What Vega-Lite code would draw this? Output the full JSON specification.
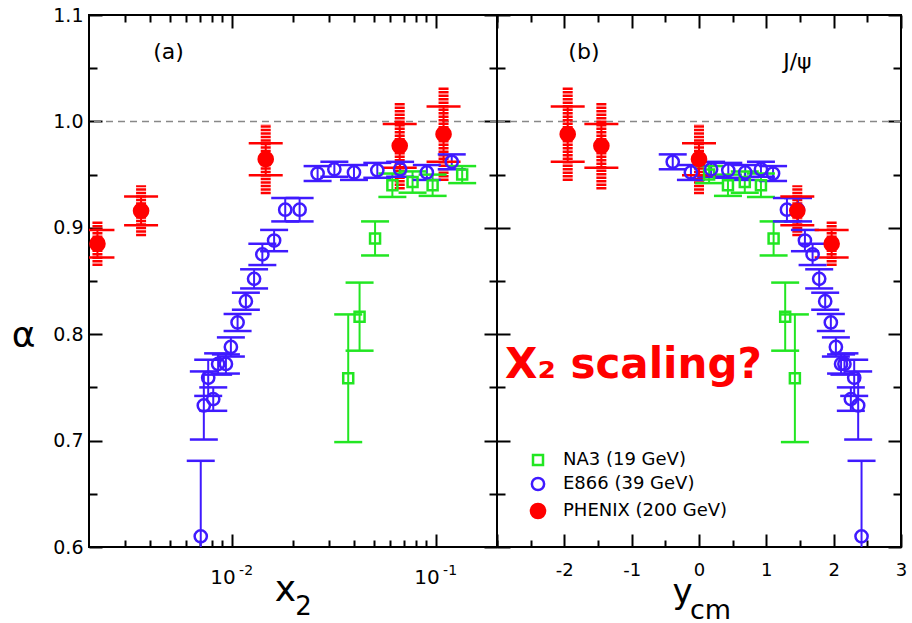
{
  "$schema": "https://vega.github.io/schema/vega-lite/v6.json",
  "background": "white",
  "padding": {"left": 10, "top": 5, "right": 5, "bottom": 0},
  "spacing": 0,
  "bounds": "flush",
  "resolve": {
    "scale": {"color": "independent", "fill": "independent", "shape": "independent", "size": "independent"},
    "legend": {"color": "independent", "fill": "independent", "shape": "independent", "size": "independent"}
  },
  "config": {
    "font": "DejaVu Sans",
    "view": {"stroke": "black", "strokeWidth": 2},
    "axis": {"domain": false, "grid": false, "tickColor": "black", "tickWidth": 2, "labelColor": "black", "titleColor": "black", "titleFontWeight": "normal", "labelFlush": false, "labelOverlap": false},
    "legend": {"labelLimit": 0}
  },
  "datasets": {
    "left": [
      {"series": "NA3 (19 GeV)", "x2": 0.135, "alpha": 0.950, "lo": 0.942, "hi": 0.958},
      {"series": "NA3 (19 GeV)", "x2": 0.0967, "alpha": 0.940, "lo": 0.930, "hi": 0.950},
      {"series": "NA3 (19 GeV)", "x2": 0.0771, "alpha": 0.943, "lo": 0.933, "hi": 0.953},
      {"series": "NA3 (19 GeV)", "x2": 0.0614, "alpha": 0.940, "lo": 0.929, "hi": 0.951},
      {"series": "NA3 (19 GeV)", "x2": 0.0505, "alpha": 0.890, "lo": 0.874, "hi": 0.906},
      {"series": "NA3 (19 GeV)", "x2": 0.0424, "alpha": 0.8165, "lo": 0.7845, "hi": 0.8485},
      {"series": "NA3 (19 GeV)", "x2": 0.0373, "alpha": 0.7586, "lo": 0.6986, "hi": 0.8186},
      {"series": "E866 (39 GeV)", "x2": 0.120, "alpha": 0.962, "lo": 0.955, "hi": 0.969},
      {"series": "E866 (39 GeV)", "x2": 0.0906, "alpha": 0.952, "lo": 0.945, "hi": 0.959},
      {"series": "E866 (39 GeV)", "x2": 0.067, "alpha": 0.955, "lo": 0.948, "hi": 0.962},
      {"series": "E866 (39 GeV)", "x2": 0.0518, "alpha": 0.954, "lo": 0.947, "hi": 0.961},
      {"series": "E866 (39 GeV)", "x2": 0.0398, "alpha": 0.952, "lo": 0.945, "hi": 0.959},
      {"series": "E866 (39 GeV)", "x2": 0.0319, "alpha": 0.955, "lo": 0.948, "hi": 0.962},
      {"series": "E866 (39 GeV)", "x2": 0.0264, "alpha": 0.951, "lo": 0.944, "hi": 0.958},
      {"series": "E866 (39 GeV)", "x2": 0.02155, "alpha": 0.917, "lo": 0.906, "hi": 0.928},
      {"series": "E866 (39 GeV)", "x2": 0.01832, "alpha": 0.917, "lo": 0.906, "hi": 0.928},
      {"series": "E866 (39 GeV)", "x2": 0.01616, "alpha": 0.888, "lo": 0.878, "hi": 0.898},
      {"series": "E866 (39 GeV)", "x2": 0.01415, "alpha": 0.875, "lo": 0.865, "hi": 0.885},
      {"series": "E866 (39 GeV)", "x2": 0.01289, "alpha": 0.852, "lo": 0.843, "hi": 0.861},
      {"series": "E866 (39 GeV)", "x2": 0.01175, "alpha": 0.831, "lo": 0.823, "hi": 0.839},
      {"series": "E866 (39 GeV)", "x2": 0.0107, "alpha": 0.811, "lo": 0.803, "hi": 0.819},
      {"series": "E866 (39 GeV)", "x2": 0.00992, "alpha": 0.788, "lo": 0.779, "hi": 0.797},
      {"series": "E866 (39 GeV)", "x2": 0.00938, "alpha": 0.772, "lo": 0.763, "hi": 0.781},
      {"series": "E866 (39 GeV)", "x2": 0.00859, "alpha": 0.772, "lo": 0.762, "hi": 0.782},
      {"series": "E866 (39 GeV)", "x2": 0.00813, "alpha": 0.739, "lo": 0.728, "hi": 0.750},
      {"series": "E866 (39 GeV)", "x2": 0.00768, "alpha": 0.759, "lo": 0.742, "hi": 0.776},
      {"series": "E866 (39 GeV)", "x2": 0.00731, "alpha": 0.733, "lo": 0.701, "hi": 0.765},
      {"series": "E866 (39 GeV)", "x2": 0.00706, "alpha": 0.610, "lo": 0.539, "hi": 0.681},
      {"series": "PHENIX (200 GeV)", "x2": 0.0022, "alpha": 0.885, "lo": 0.872, "hi": 0.898, "slo": 0.864, "shi": 0.906},
      {"series": "PHENIX (200 GeV)", "x2": 0.0036, "alpha": 0.916, "lo": 0.9025, "hi": 0.9295, "slo": 0.892, "shi": 0.940},
      {"series": "PHENIX (200 GeV)", "x2": 0.0147, "alpha": 0.9645, "lo": 0.9495, "hi": 0.9795, "slo": 0.9315, "shi": 0.9975},
      {"series": "PHENIX (200 GeV)", "x2": 0.0667, "alpha": 0.977, "lo": 0.9565, "hi": 0.9975, "slo": 0.936, "shi": 1.018},
      {"series": "PHENIX (200 GeV)", "x2": 0.1094, "alpha": 0.988, "lo": 0.962, "hi": 1.014, "slo": 0.944, "shi": 1.032}
    ],
    "right": [
      {"series": "NA3 (19 GeV)", "ycm": 0.15, "alpha": 0.950, "lo": 0.942, "hi": 0.958},
      {"series": "NA3 (19 GeV)", "ycm": 0.43, "alpha": 0.940, "lo": 0.930, "hi": 0.950},
      {"series": "NA3 (19 GeV)", "ycm": 0.68, "alpha": 0.943, "lo": 0.933, "hi": 0.953},
      {"series": "NA3 (19 GeV)", "ycm": 0.92, "alpha": 0.940, "lo": 0.929, "hi": 0.951},
      {"series": "NA3 (19 GeV)", "ycm": 1.108, "alpha": 0.890, "lo": 0.874, "hi": 0.906},
      {"series": "NA3 (19 GeV)", "ycm": 1.28, "alpha": 0.8165, "lo": 0.7845, "hi": 0.8485},
      {"series": "NA3 (19 GeV)", "ycm": 1.424, "alpha": 0.7586, "lo": 0.6986, "hi": 0.8186},
      {"series": "E866 (39 GeV)", "ycm": -0.39, "alpha": 0.962, "lo": 0.955, "hi": 0.969},
      {"series": "E866 (39 GeV)", "ycm": -0.12, "alpha": 0.952, "lo": 0.945, "hi": 0.959},
      {"series": "E866 (39 GeV)", "ycm": 0.18, "alpha": 0.955, "lo": 0.948, "hi": 0.962},
      {"series": "E866 (39 GeV)", "ycm": 0.435, "alpha": 0.954, "lo": 0.947, "hi": 0.961},
      {"series": "E866 (39 GeV)", "ycm": 0.687, "alpha": 0.952, "lo": 0.945, "hi": 0.959},
      {"series": "E866 (39 GeV)", "ycm": 0.92, "alpha": 0.955, "lo": 0.948, "hi": 0.962},
      {"series": "E866 (39 GeV)", "ycm": 1.10, "alpha": 0.951, "lo": 0.944, "hi": 0.958},
      {"series": "E866 (39 GeV)", "ycm": 1.306, "alpha": 0.917, "lo": 0.906, "hi": 0.928},
      {"series": "E866 (39 GeV)", "ycm": 1.47, "alpha": 0.917, "lo": 0.906, "hi": 0.928},
      {"series": "E866 (39 GeV)", "ycm": 1.573, "alpha": 0.888, "lo": 0.878, "hi": 0.898},
      {"series": "E866 (39 GeV)", "ycm": 1.687, "alpha": 0.875, "lo": 0.865, "hi": 0.885},
      {"series": "E866 (39 GeV)", "ycm": 1.785, "alpha": 0.852, "lo": 0.843, "hi": 0.861},
      {"series": "E866 (39 GeV)", "ycm": 1.874, "alpha": 0.831, "lo": 0.823, "hi": 0.839},
      {"series": "E866 (39 GeV)", "ycm": 1.958, "alpha": 0.811, "lo": 0.803, "hi": 0.819},
      {"series": "E866 (39 GeV)", "ycm": 2.033, "alpha": 0.788, "lo": 0.779, "hi": 0.797},
      {"series": "E866 (39 GeV)", "ycm": 2.11, "alpha": 0.772, "lo": 0.763, "hi": 0.781},
      {"series": "E866 (39 GeV)", "ycm": 2.16, "alpha": 0.772, "lo": 0.762, "hi": 0.782},
      {"series": "E866 (39 GeV)", "ycm": 2.255, "alpha": 0.739, "lo": 0.728, "hi": 0.750},
      {"series": "E866 (39 GeV)", "ycm": 2.305, "alpha": 0.759, "lo": 0.742, "hi": 0.776},
      {"series": "E866 (39 GeV)", "ycm": 2.364, "alpha": 0.733, "lo": 0.701, "hi": 0.765},
      {"series": "E866 (39 GeV)", "ycm": 2.414, "alpha": 0.610, "lo": 0.539, "hi": 0.681},
      {"series": "PHENIX (200 GeV)", "ycm": -1.95, "alpha": 0.988, "lo": 0.962, "hi": 1.014, "slo": 0.944, "shi": 1.032},
      {"series": "PHENIX (200 GeV)", "ycm": -1.45, "alpha": 0.977, "lo": 0.9565, "hi": 0.9975, "slo": 0.936, "shi": 1.018},
      {"series": "PHENIX (200 GeV)", "ycm": 0.0, "alpha": 0.9645, "lo": 0.9495, "hi": 0.9795, "slo": 0.9315, "shi": 0.9975},
      {"series": "PHENIX (200 GeV)", "ycm": 1.46, "alpha": 0.916, "lo": 0.9025, "hi": 0.9295, "slo": 0.892, "shi": 0.940},
      {"series": "PHENIX (200 GeV)", "ycm": 1.97, "alpha": 0.885, "lo": 0.872, "hi": 0.898, "slo": 0.864, "shi": 0.906}
    ]
  },
  "hconcat": [
    {
      "width": 408,
      "height": 532,
      "data": {"name": "left"},
      "resolve": {"axis": {"x": "independent", "y": "independent"}},
      "layer": [
        {
          "data": {"values": [{"ref": 1}]},
          "mark": {"type": "rule", "color": "#888888", "strokeWidth": 1.5, "strokeDash": [7, 5]},
          "encoding": {"y": {"field": "ref", "type": "quantitative", "scale": {"domain": [0.6, 1.1], "nice": false, "zero": false}, "axis": null}}
        },
        {
          "transform": [{"filter": "datum.series === 'PHENIX (200 GeV)'"}],
          "mark": {"type": "rule", "color": "#ff0000", "strokeWidth": 10, "strokeDash": [2.5, 1], "clip": true},
          "encoding": {
            "x": {"field": "x2", "type": "quantitative", "scale": {"type": "log", "domain": [0.002, 0.2], "nice": false},
              "axis": {"orient": "bottom", "values": [0.01, 0.1], "labelExpr": "'10'", "tickSize": -13, "labelPadding": 33, "labelFontSize": 20, "labelOffset": -9, "title": "x", "titleFontSize": 36, "titleX": 196, "titleY": 53, "titleAlign": "center", "titleBaseline": "alphabetic"}},
            "y": {"field": "slo", "type": "quantitative", "scale": {"domain": [0.6, 1.1], "nice": false, "zero": false},
              "axis": {"orient": "left", "values": [0.6, 0.7, 0.8, 0.9, 1.0, 1.1], "format": ".1f", "tickSize": -13, "labelPadding": 19, "labelFontSize": 19, "title": "α", "titleFontSize": 36, "titleAngle": 0, "titleX": -66, "titleY": 320, "titleAlign": "center", "titleBaseline": "middle"}},
            "y2": {"field": "shi"}
          }
        },
        {
          "mark": {"type": "rule", "strokeWidth": 2, "clip": true},
          "encoding": {
            "x": {"field": "x2", "type": "quantitative", "scale": {"type": "log", "domain": [0.002, 0.2], "nice": false},
              "axis": {"orient": "bottom", "values": [0.003, 0.004, 0.005, 0.006, 0.007, 0.008, 0.009, 0.02, 0.03, 0.04, 0.05, 0.06, 0.07, 0.08, 0.09, 0.2], "labels": false, "tickSize": -7, "title": "2", "titleFontSize": 26, "titleX": 214, "titleY": 67, "titleAlign": "center", "titleBaseline": "alphabetic"}},
            "y": {"field": "lo", "type": "quantitative", "scale": {"domain": [0.6, 1.1], "nice": false, "zero": false},
              "axis": {"orient": "left", "values": [0.65, 0.75, 0.85, 0.95, 1.05], "labels": false, "tickSize": -8, "title": null}},
            "y2": {"field": "hi"},
            "color": {"condition": [{"test": "datum.series === 'NA3 (19 GeV)'", "value": "#22e622"}, {"test": "datum.series === 'PHENIX (200 GeV)'", "value": "#ff0000"}], "value": "#3f1aff"}
          }
        },
        {
          "transform": [{"fold": ["lo", "hi"], "as": ["end", "val"]}],
          "mark": {"type": "tick", "orient": "horizontal", "thickness": 2.5, "opacity": 1, "clip": true},
          "encoding": {
            "x": {"field": "x2", "type": "quantitative", "scale": {"type": "log", "domain": [0.002, 0.2], "nice": false},
              "axis": {"orient": "top", "values": [0.01, 0.1], "labels": false, "tickSize": -13, "title": null}},
            "y": {"field": "val", "type": "quantitative", "scale": {"domain": [0.6, 1.1], "nice": false, "zero": false},
              "axis": {"orient": "right", "values": [0.6, 0.7, 0.8, 0.9, 1.0, 1.1], "labels": false, "tickSize": -13, "title": null}},
            "color": {"condition": [{"test": "datum.series === 'NA3 (19 GeV)'", "value": "#22e622"}, {"test": "datum.series === 'PHENIX (200 GeV)'", "value": "#ff0000"}], "value": "#3f1aff"},
            "size": {"condition": {"test": "datum.series === 'PHENIX (200 GeV)'", "value": 34}, "value": 28}
          }
        },
        {
          "mark": {"type": "point", "filled": false, "strokeWidth": 2.5, "opacity": 1},
          "encoding": {
            "x": {"field": "x2", "type": "quantitative", "scale": {"type": "log", "domain": [0.002, 0.2], "nice": false},
              "axis": {"orient": "top", "values": [0.003, 0.004, 0.005, 0.006, 0.007, 0.008, 0.009, 0.02, 0.03, 0.04, 0.05, 0.06, 0.07, 0.08, 0.09, 0.2], "labels": false, "tickSize": -7, "title": null}},
            "y": {"field": "alpha", "type": "quantitative", "scale": {"domain": [0.6, 1.1], "nice": false, "zero": false},
              "axis": {"orient": "right", "values": [0.65, 0.75, 0.85, 0.95, 1.05], "labels": false, "tickSize": -8, "title": null}},
            "color": {"field": "series", "type": "nominal", "scale": {"domain": ["NA3 (19 GeV)", "E866 (39 GeV)", "PHENIX (200 GeV)"], "range": ["#22e622", "#3f1aff", "#ff0000"]}, "legend": null},
            "fill": {"field": "series", "type": "nominal", "scale": {"domain": ["NA3 (19 GeV)", "E866 (39 GeV)", "PHENIX (200 GeV)"], "range": ["transparent", "transparent", "#ff0000"]}, "legend": null},
            "shape": {"field": "series", "type": "nominal", "scale": {"domain": ["NA3 (19 GeV)", "E866 (39 GeV)", "PHENIX (200 GeV)"], "range": ["square", "circle", "circle"]}, "legend": null},
            "size": {"field": "series", "type": "nominal", "scale": {"domain": ["NA3 (19 GeV)", "E866 (39 GeV)", "PHENIX (200 GeV)"], "range": [100, 200, 520]}, "legend": null}
          }
        },
        {
          "data": {"values": [{"x2": 0.00413, "alpha": 1.065, "label": "(a)"}]},
          "mark": {"type": "text", "align": "left", "baseline": "middle", "fontSize": 22, "color": "black", "font": "DejaVu Sans"},
          "encoding": {
            "x": {"field": "x2", "type": "quantitative", "scale": {"type": "log", "domain": [0.002, 0.2], "nice": false},
              "axis": {"orient": "bottom", "values": [0.01, 0.1], "labelExpr": "datum.value < 0.05 ? '-2' : '-1'", "ticks": false, "tickSize": 0, "labelPadding": 16, "labelFontSize": 14, "labelOffset": 14, "title": null}},
            "y": {"field": "alpha", "type": "quantitative", "scale": {"domain": [0.6, 1.1], "nice": false, "zero": false}, "axis": null},
            "text": {"field": "label"}
          }
        }
      ]
    },
    {
      "width": 404,
      "height": 532,
      "data": {"name": "right"},
      "resolve": {"axis": {"x": "independent", "y": "independent"}},
      "layer": [
        {
          "data": {"values": [{"ref": 1}]},
          "mark": {"type": "rule", "color": "#888888", "strokeWidth": 1.5, "strokeDash": [7, 5]},
          "encoding": {"y": {"field": "ref", "type": "quantitative", "scale": {"domain": [0.6, 1.1], "nice": false, "zero": false}, "axis": null}}
        },
        {
          "transform": [{"filter": "datum.series === 'PHENIX (200 GeV)'"}],
          "mark": {"type": "rule", "color": "#ff0000", "strokeWidth": 10, "strokeDash": [2.5, 1], "clip": true},
          "encoding": {
            "x": {"field": "ycm", "type": "quantitative", "scale": {"domain": [-3, 3], "nice": false, "zero": false},
              "axis": {"orient": "bottom", "values": [-3, -2, -1, 0, 1, 2, 3], "labelExpr": "datum.value == -3 ? '' : '' + datum.value", "tickSize": -13, "labelPadding": 27, "labelFontSize": 18, "title": "y", "titleFontSize": 34, "titleX": 185, "titleY": 55, "titleAlign": "center", "titleBaseline": "alphabetic"}},
            "y": {"field": "slo", "type": "quantitative", "scale": {"domain": [0.6, 1.1], "nice": false, "zero": false},
              "axis": {"orient": "left", "values": [0.6, 0.7, 0.8, 0.9, 1.0, 1.1], "labels": false, "tickSize": -13, "title": null}},
            "y2": {"field": "shi"}
          }
        },
        {
          "mark": {"type": "rule", "strokeWidth": 2, "clip": true},
          "encoding": {
            "x": {"field": "ycm", "type": "quantitative", "scale": {"domain": [-3, 3], "nice": false, "zero": false},
              "axis": {"orient": "bottom", "values": [-2.5, -1.5, -0.5, 0.5, 1.5, 2.5], "labels": false, "tickSize": -7, "title": "cm", "titleFontSize": 27, "titleX": 213, "titleY": 71, "titleAlign": "center", "titleBaseline": "alphabetic"}},
            "y": {"field": "lo", "type": "quantitative", "scale": {"domain": [0.6, 1.1], "nice": false, "zero": false},
              "axis": {"orient": "left", "values": [0.65, 0.75, 0.85, 0.95, 1.05], "labels": false, "tickSize": -8, "title": null}},
            "y2": {"field": "hi"},
            "color": {"condition": [{"test": "datum.series === 'NA3 (19 GeV)'", "value": "#22e622"}, {"test": "datum.series === 'PHENIX (200 GeV)'", "value": "#ff0000"}], "value": "#3f1aff"}
          }
        },
        {
          "transform": [{"fold": ["lo", "hi"], "as": ["end", "val"]}],
          "mark": {"type": "tick", "orient": "horizontal", "thickness": 2.5, "opacity": 1, "clip": true},
          "encoding": {
            "x": {"field": "ycm", "type": "quantitative", "scale": {"domain": [-3, 3], "nice": false, "zero": false},
              "axis": {"orient": "top", "values": [-3, -2, -1, 0, 1, 2, 3], "labels": false, "tickSize": -13, "title": null}},
            "y": {"field": "val", "type": "quantitative", "scale": {"domain": [0.6, 1.1], "nice": false, "zero": false},
              "axis": {"orient": "right", "values": [0.6, 0.7, 0.8, 0.9, 1.0, 1.1], "labels": false, "tickSize": -13, "title": null}},
            "color": {"condition": [{"test": "datum.series === 'NA3 (19 GeV)'", "value": "#22e622"}, {"test": "datum.series === 'PHENIX (200 GeV)'", "value": "#ff0000"}], "value": "#3f1aff"},
            "size": {"condition": {"test": "datum.series === 'PHENIX (200 GeV)'", "value": 34}, "value": 28}
          }
        },
        {
          "mark": {"type": "point", "filled": false, "strokeWidth": 2.5, "opacity": 1},
          "encoding": {
            "x": {"field": "ycm", "type": "quantitative", "scale": {"domain": [-3, 3], "nice": false, "zero": false},
              "axis": {"orient": "top", "values": [-2.5, -1.5, -0.5, 0.5, 1.5, 2.5], "labels": false, "tickSize": -7, "title": null}},
            "y": {"field": "alpha", "type": "quantitative", "scale": {"domain": [0.6, 1.1], "nice": false, "zero": false},
              "axis": {"orient": "right", "values": [0.65, 0.75, 0.85, 0.95, 1.05], "labels": false, "tickSize": -8, "title": null}},
            "color": {"field": "series", "type": "nominal", "scale": {"domain": ["NA3 (19 GeV)", "E866 (39 GeV)", "PHENIX (200 GeV)"], "range": ["#22e622", "#3f1aff", "#ff0000"]},
              "legend": {"orient": "none", "legendX": 32, "legendY": 436, "title": null, "labelFontSize": 18, "labelOffset": 16, "labelLimit": 0, "rowPadding": 2, "padding": 0, "symbolStrokeWidth": 2.5}},
            "fill": {"field": "series", "type": "nominal", "scale": {"domain": ["NA3 (19 GeV)", "E866 (39 GeV)", "PHENIX (200 GeV)"], "range": ["transparent", "transparent", "#ff0000"]},
              "legend": {"orient": "none", "legendX": 32, "legendY": 436, "title": null, "labelFontSize": 18, "labelOffset": 16, "labelLimit": 0, "rowPadding": 2, "padding": 0, "symbolStrokeWidth": 2.5}},
            "shape": {"field": "series", "type": "nominal", "scale": {"domain": ["NA3 (19 GeV)", "E866 (39 GeV)", "PHENIX (200 GeV)"], "range": ["square", "circle", "circle"]},
              "legend": {"orient": "none", "legendX": 32, "legendY": 436, "title": null, "labelFontSize": 18, "labelOffset": 16, "labelLimit": 0, "rowPadding": 2, "padding": 0, "symbolStrokeWidth": 2.5}},
            "size": {"field": "series", "type": "nominal", "scale": {"domain": ["NA3 (19 GeV)", "E866 (39 GeV)", "PHENIX (200 GeV)"], "range": [100, 200, 520]},
              "legend": {"orient": "none", "legendX": 32, "legendY": 436, "title": null, "labelFontSize": 18, "labelOffset": 16, "labelLimit": 0, "rowPadding": 2, "padding": 0, "symbolStrokeWidth": 2.5}}
          }
        },
        {
          "data": {"values": [{"ycm": -1.94, "alpha": 1.065, "label": "(b)"}, {"ycm": 1.25, "alpha": 1.056, "label": "J/ψ"}]},
          "mark": {"type": "text", "align": "left", "baseline": "middle", "fontSize": 22, "color": "black", "font": "DejaVu Sans"},
          "encoding": {
            "x": {"field": "ycm", "type": "quantitative", "scale": {"domain": [-3, 3], "nice": false, "zero": false}, "axis": null},
            "y": {"field": "alpha", "type": "quantitative", "scale": {"domain": [0.6, 1.1], "nice": false, "zero": false}, "axis": null},
            "text": {"field": "label"}
          }
        },
        {
          "data": {"values": [{"ycm": -2.88, "alpha": 0.759, "label": "X₂ scaling?"}]},
          "mark": {"type": "text", "align": "left", "baseline": "alphabetic", "fontSize": 42, "fontWeight": "bold", "color": "#ff0000", "font": "DejaVu Sans"},
          "encoding": {
            "x": {"field": "ycm", "type": "quantitative", "scale": {"domain": [-3, 3], "nice": false, "zero": false}, "axis": null},
            "y": {"field": "alpha", "type": "quantitative", "scale": {"domain": [0.6, 1.1], "nice": false, "zero": false}, "axis": null},
            "text": {"field": "label"}
          }
        }
      ]
    }
  ]
}
